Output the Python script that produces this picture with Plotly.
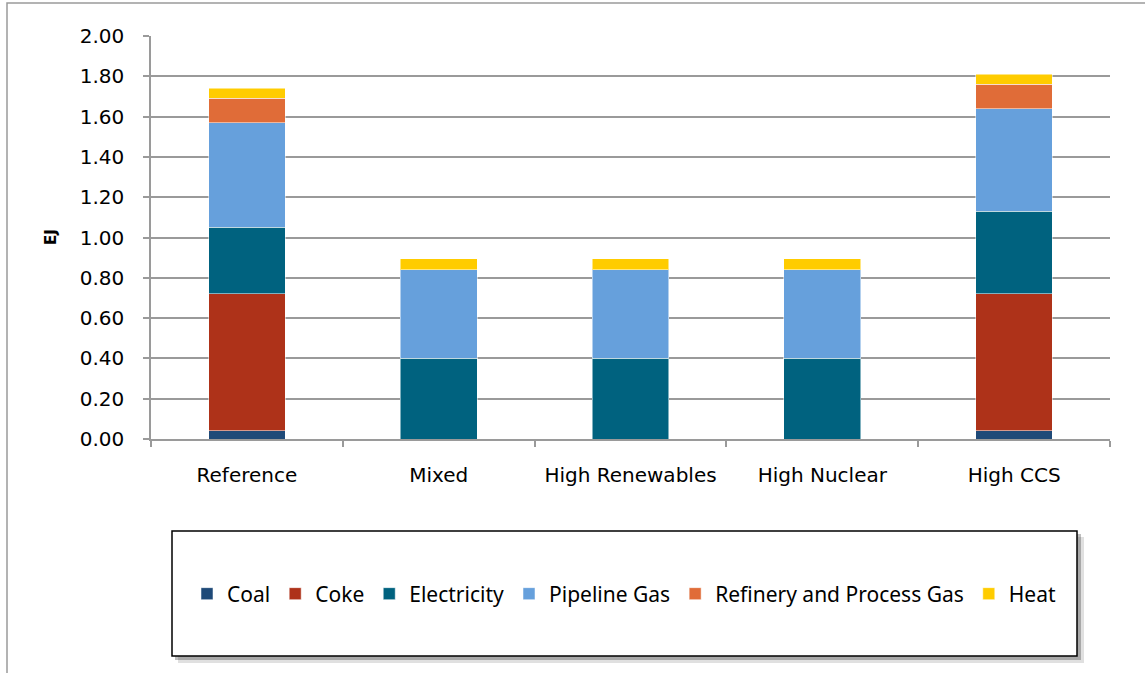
import plotly.graph_objects as go

scenarios = ["Reference", "Mixed", "High Renewables", "High Nuclear", "High CCS"]

coal = [0.04, 0.0, 0.0, 0.0, 0.04]
coke = [0.68, 0.0, 0.0, 0.0, 0.68]
electricity = [0.33, 0.40, 0.40, 0.40, 0.41]
pipeline_gas = [0.52, 0.44, 0.44, 0.44, 0.51]
refinery_gas = [0.12, 0.0, 0.0, 0.0, 0.12]
heat = [0.05, 0.055, 0.055, 0.055, 0.05]

series = [
    ("Coal", coal, "#1F4A78"),
    ("Coke", coke, "#AE3219"),
    ("Electricity", electricity, "#00627F"),
    ("Pipeline Gas", pipeline_gas, "#66A0DC"),
    ("Refinery and Process Gas", refinery_gas, "#E06C38"),
    ("Heat", heat, "#FFCC00"),
]

fig = go.Figure()
for name, vals, color in series:
    fig.add_trace(go.Bar(
        x=scenarios,
        y=vals,
        name=name,
        marker=dict(color=color, line=dict(color="rgba(255,255,255,0.5)", width=1)),
    ))

# pixel -> paper helpers (plot area 151..1110 x 36..439)
def px(x):
    return (x - 151) / 959.0


def py(y):
    return (439 - y) / 403.0


shapes = [
    # outer chart frame
    dict(type="rect", xref="paper", yref="paper", x0=px(7), x1=px(1160), y0=py(690), y1=py(3),
         line=dict(color="#9a9a9a", width=1.5), layer="below"),
    # legend shadow
    dict(type="rect", xref="paper", yref="paper", x0=px(178), x1=px(1084), y0=py(663), y1=py(537),
         line=dict(width=0), fillcolor="rgba(0,0,0,0.12)", layer="below"),
    dict(type="rect", xref="paper", yref="paper", x0=px(175), x1=px(1081), y0=py(660), y1=py(534),
         line=dict(width=0), fillcolor="rgba(0,0,0,0.25)", layer="below"),
    # legend box
    dict(type="rect", xref="paper", yref="paper", x0=px(172), x1=px(1077), y0=py(656), y1=py(531),
         line=dict(color="black", width=1.5), fillcolor="white", layer="below"),
]

fig.update_layout(
    width=1145,
    height=673,
    margin=dict(l=151, r=35, t=36, b=234),
    barmode="stack",
    bargap=0.6,
    plot_bgcolor="white",
    paper_bgcolor="white",
    font=dict(family="DejaVu Sans", size=20, color="black"),
    shapes=shapes,
    legend=dict(
        orientation="h",
        x=px(624), xanchor="center",
        y=py(594), yanchor="middle",
        font=dict(family="Noto Sans", size=21, color="black"),
        bgcolor="rgba(0,0,0,0)",
        traceorder="normal",
        itemclick=False,
    ),
    annotations=[
        dict(text="<b>EJ</b>", xref="paper", yref="paper", x=px(51), y=py(237),
             xanchor="center", yanchor="middle",
             textangle=-90, showarrow=False, font=dict(family="DejaVu Sans", size=15)),
    ],
)

fig.update_xaxes(
    showline=True, linecolor="#9a9a9a", linewidth=1.5,
    ticks="outside", tickson="boundaries", ticklen=6, tickcolor="#9a9a9a", tickwidth=1.5,
    ticklabelstandoff=17,
)
fig.update_yaxes(
    range=[0, 2.0], dtick=0.2, tickformat=".2f",
    showgrid=True, gridcolor="#9a9a9a", gridwidth=1.5,
    showline=True, linecolor="#9a9a9a", linewidth=1.5,
    ticks="outside", ticklen=6, tickcolor="#9a9a9a", tickwidth=1.5,
    ticklabelstandoff=15, zeroline=False,
)

fig.write_html(
    "out.html",
    config={"displayModeBar": False},
    post_script="document.body.style.margin='0';",
)
